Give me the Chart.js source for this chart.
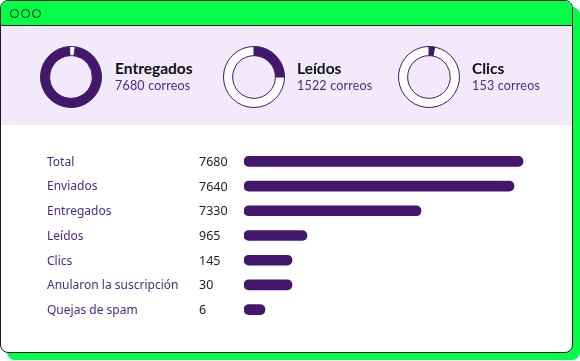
<!DOCTYPE html>
<html>
<head>
<meta charset="utf-8">
<script src="https://cdn.jsdelivr.net/npm/chart.js@4"></script>
<style>
  body { margin: 0; width: 580px; height: 361px; background: #fff; position: relative; overflow: hidden; font-family: 'Lato', sans-serif; }
  .card { position: absolute; left: 0; top: 0; width: 573px; height: 353px; box-sizing: border-box;
          border: 1.5px solid #1b1b1b; border-radius: 8px; background: #fff; box-shadow: 7px 7px 0 #00ff46; overflow: hidden; }
  .topbar { position: absolute; left: 0; top: 0; right: 0; height: 24px; background: #00ff46; border-bottom: 1.2px solid #1b1b1b; }
  .dot { position: absolute; top: 8px; width: 7px; height: 7px; border: 1.5px solid #1b1b1b; border-radius: 50%; }
  .header { position: absolute; left: 0; right: 0; top: 25px; height: 99px; background: #f1eafb; }
  .ring { position: absolute; width: 62px; height: 62px; }
  .title { position: absolute; font-weight: 700; font-size: 15.5px; color: #111; }
  .sub { position: absolute; font-size: 12.5px; color: #4b2a82; letter-spacing: 0.2px; }
  #bars { position: absolute; left: 0; top: 149px; }
</style>
</head>
<body>
<div class="card">
  <div class="topbar">
    <div class="dot" style="left:9px"></div>
    <div class="dot" style="left:20px"></div>
    <div class="dot" style="left:31px"></div>
  </div>
  <div class="header"></div>
</div>
<canvas id="ring0" class="ring" style="left:40px;top:46px"></canvas>
<canvas id="ring1" class="ring" style="left:223px;top:46px"></canvas>
<canvas id="ring2" class="ring" style="left:398px;top:46px"></canvas>
<div class="title" style="left:115px;top:59px">Entregados</div>
<div class="sub" style="left:115px;top:78px">7680 correos</div>
<div class="title" style="left:297px;top:59px">Leídos</div>
<div class="sub" style="left:297px;top:78px">1522 correos</div>
<div class="title" style="left:472px;top:59px">Clics</div>
<div class="sub" style="left:472px;top:78px">153 correos</div>
<canvas id="bars" width="572" height="173"></canvas>
<script>
// resumen (anillos)
const ringNames = ['Entregados', 'Leídos', 'Clics'];
const ringCounts = [7680, 1522, 153];
const ringShare = [97, 25, 3];        // % del anillo relleno

// tabla de barras
const categories = ['Total', 'Enviados', 'Entregados', 'Leídos', 'Clics', 'Anularon la suscripción', 'Quejas de spam'];
const counts = [7680, 7640, 7330, 965, 145, 30, 6];
const barLength = [93, 90, 59, 21, 16, 16, 7];   // largo de cada barra (0-100)

const purple = '#43176b';
const labelPurple = '#4b2a82';

ringShare.forEach((share, i) => {
    new Chart(document.getElementById('ring' + i), {
        type: 'doughnut',
        data: {
            labels: [ringNames[i], 'Resto'],
            datasets: [{
                data: [share, 100 - share],
                backgroundColor: [purple, '#ffffff'],
                borderColor: purple,
                borderWidth: 1
            }]
        },
        options: {
            responsive: false,
            animation: false,
            cutout: '70%',
            rotation: i === 0 ? 8 : 0,   // el hueco del primero queda a la derecha de las 12
            plugins: { legend: { display: false }, tooltip: { enabled: false } }
        }
    });
});

const rowText = {
    id: 'rowText',
    afterDraw(chart) {
        const c = chart.ctx;
        const y = chart.scales.y;
        c.save();
        c.font = '12px "Noto Sans"';
        c.textBaseline = 'middle';
        categories.forEach((cat, i) => {
            const py = y.getPixelForValue(i) + 1;
            c.fillStyle = labelPurple;
            c.fillText(cat, 47, py);
            c.fillStyle = '#222';
            c.font = '12.5px "Noto Sans"';
            c.fillText(String(counts[i]), 199, py);
            c.font = '12px "Noto Sans"';
        });
        c.restore();
    }
};

new Chart(document.getElementById('bars'), {
    type: 'bar',
    data: {
        labels: categories,
        datasets: [{
            data: barLength,
            backgroundColor: purple,
            barThickness: 10,
            borderRadius: 5,
            borderSkipped: false
        }]
    },
    options: {
        indexAxis: 'y',
        responsive: false,
        animation: false,
        layout: { padding: { left: 244, right: 28, top: 0, bottom: 0 } },
        scales: {
            x: { display: false, min: 0, max: 100 },
            y: { display: false }
        },
        plugins: { legend: { display: false }, tooltip: { enabled: false } }
    },
    plugins: [rowText]
});
</script>
</body>
</html>
